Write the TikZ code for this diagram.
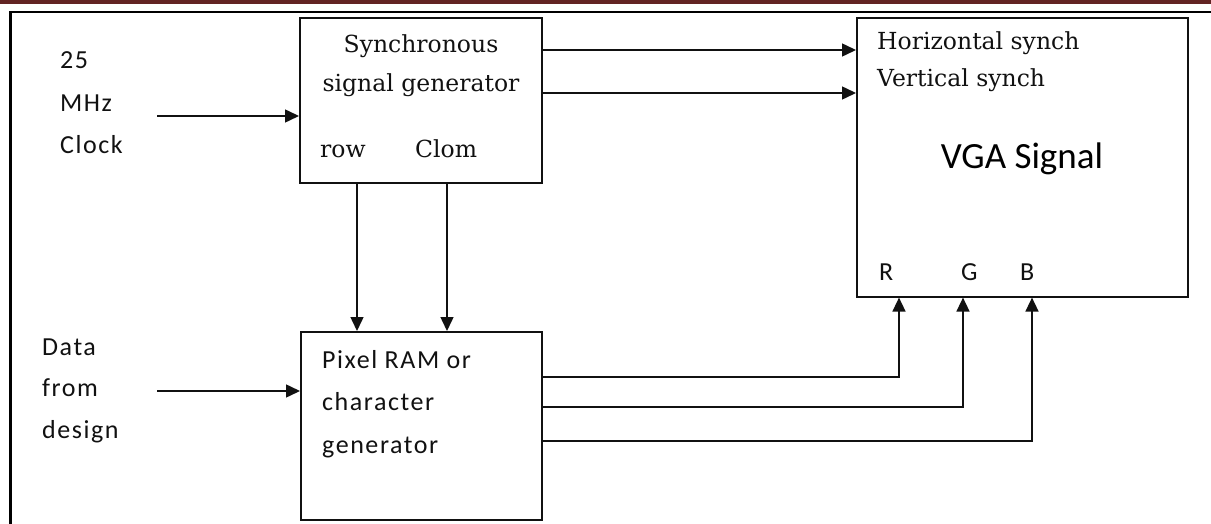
\documentclass[tikz,border=0pt]{standalone}
\usepackage{fontspec}
\setmainfont{DejaVu Serif}
\newfontfamily\sansf[LetterSpace=6]{Carlito}
\newfontfamily\vgaf{Carlito}
\usetikzlibrary{arrows.meta,calc}
\definecolor{maroonband}{HTML}{622423}
\definecolor{ink}{HTML}{111111}
\tikzset{
  box/.style={draw=ink, line width=1.6pt, anchor=north west, inner sep=0pt, fill=white},
  serif/.style={inner sep=0pt, font=\fontsize{23.5}{28}\selectfont, text=ink},
  sans/.style={inner sep=0pt, font=\sansf\fontsize{26}{31}\selectfont, text=ink},
  vgatext/.style={inner sep=0pt, font=\vgaf\fontsize{37}{44}\selectfont, text=black},
  arr/.style={draw=ink, line width=1.5pt, -{Triangle[length=14pt,width=13pt]}},
}
\begin{document}
\begin{tikzpicture}[x=1pt,y=-1pt]
\useasboundingbox (0,0) rectangle (1211,524);
% page border
\fill[maroonband] (0,0) rectangle (1211,4.5);
\draw[line width=2.5pt, black, line cap=rect] (10.7,524) -- (10.7,12) -- (1211,12);

% boxes
\node[box, minimum width=242pt, minimum height=165pt] (sync) at (299,17) {};
\node[box, minimum width=241pt, minimum height=188pt] (pix) at (300,331) {};
\node[box, minimum width=331pt, minimum height=279pt] (vga) at (856,17) {};

% sync box text
\node[serif, anchor=base] (s1) at (421,53) {Synchronous};
\node[serif, anchor=base] (s2) at (421,92) {signal generator};
\node[serif, anchor=base west] (srow) at (320,158) {row};
\node[serif, anchor=base west] (sclom) at (415,158) {Clom};

% vga box text
\node[serif, anchor=base west] (vh) at (877,50) {Horizontal synch};
\node[serif, anchor=base west] (vv) at (877,87) {Vertical synch};
\node[vgatext, anchor=base] (vsig) at (1022,168) {VGA Signal};
\node[sans, anchor=base west] (vr) at (879,280) {R};
\node[sans, anchor=base west] (vg) at (961,280) {G};
\node[sans, anchor=base west] (vb) at (1020,280) {B};

% pixel box text
\node[sans, anchor=base west] (p1) at (322,368) {Pixel RAM or};
\node[sans, anchor=base west] (p2) at (322,410) {character};
\node[sans, anchor=base west] (p3) at (322,453) {generator};

% left labels
\node[sans, anchor=base west] (c1) at (60,69) {25};
\node[sans, anchor=base west] (c2) at (60,112) {MHz};
\node[sans, anchor=base west] (c3) at (60,154) {Clock};
\node[sans, anchor=base west] (d1) at (42,355) {Data};
\node[sans, anchor=base west] (d2) at (42,396) {from};
\node[sans, anchor=base west] (d3) at (42,438) {design};

% connectors
\coordinate (clkin) at (157,116);
\coordinate (datin) at (157,391);
\draw[arr] (clkin) -- (clkin -| sync.west);
\draw[arr] (datin) -- (datin -| pix.west);

\coordinate (hy) at (0,50);
\coordinate (vy) at (0,93);
\draw[arr] (sync.east |- hy) -- (vga.west |- hy);
\draw[arr] (sync.east |- vy) -- (vga.west |- vy);

\coordinate (rowx) at (357,0);
\coordinate (clomx) at (447,0);
\draw[arr] (sync.south -| rowx) -- (pix.north -| rowx);
\draw[arr] (sync.south -| clomx) -- (pix.north -| clomx);

\coordinate (rp) at (899,377);
\coordinate (gp) at (963,407);
\coordinate (bp) at (1032,441);
\draw[arr] (pix.east |- rp) -| (vga.south -| rp);
\draw[arr] (pix.east |- gp) -| (vga.south -| gp);
\draw[arr] (pix.east |- bp) -| (vga.south -| bp);
\end{tikzpicture}
\end{document}
